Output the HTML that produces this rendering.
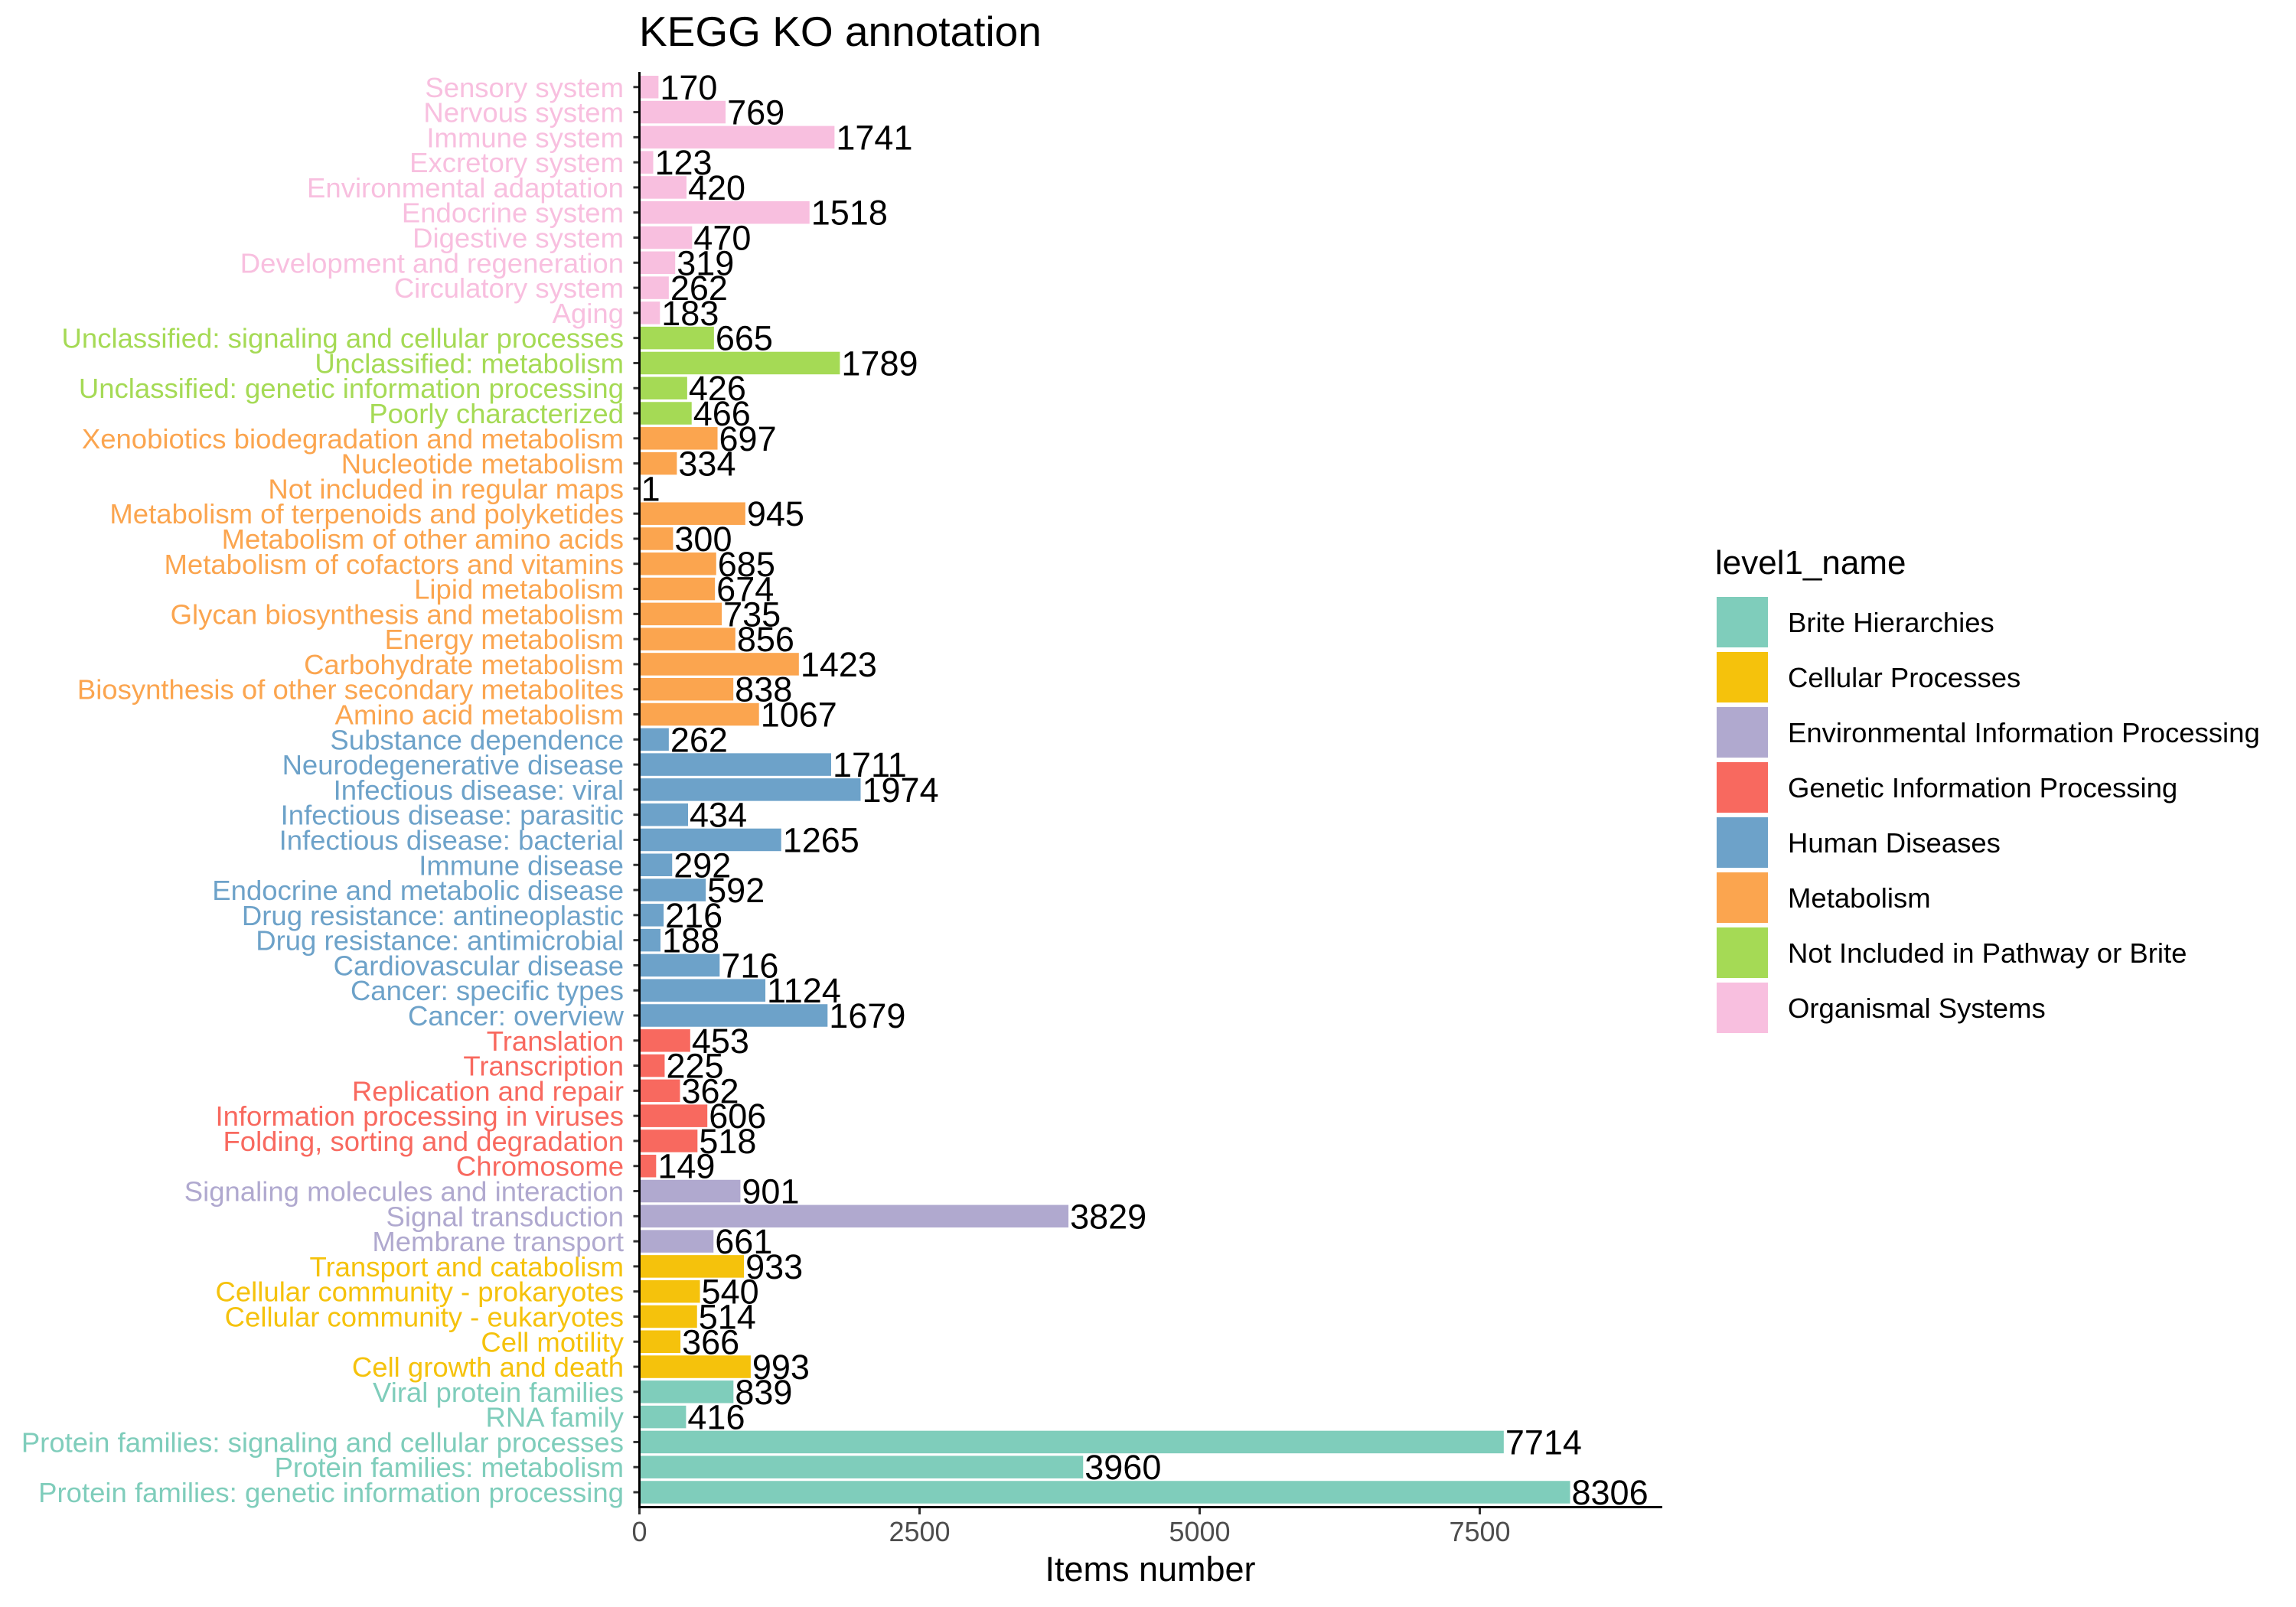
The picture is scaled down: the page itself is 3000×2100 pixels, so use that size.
<!DOCTYPE html>
<html><head><meta charset="utf-8"><style>
html,body{margin:0;padding:0;background:#fff;}
svg{display:block;font-family:"Liberation Sans",Arial,sans-serif;}
</style></head><body>
<svg id="chart" width="3000" height="2100" viewBox="0 0 3000 2100" xmlns="http://www.w3.org/2000/svg">
<text x="835" y="60" font-size="55" fill="#000">KEGG KO annotation</text>
<g id="bars"></g>
<g id="ylabels"></g>
<g id="vlabels"></g>
<g id="xaxis"></g>
<text x="1503" y="2066" font-size="45" text-anchor="middle" fill="#000">Items number</text>
<g id="legend">
<text x="2241" y="750" font-size="44" fill="#000">level1_name</text>
</g>
</svg>
<script>
const categories = ["Protein families: genetic information processing","Protein families: metabolism","Protein families: signaling and cellular processes","RNA family","Viral protein families","Cell growth and death","Cell motility","Cellular community - eukaryotes","Cellular community - prokaryotes","Transport and catabolism","Membrane transport","Signal transduction","Signaling molecules and interaction","Chromosome","Folding, sorting and degradation","Information processing in viruses","Replication and repair","Transcription","Translation","Cancer: overview","Cancer: specific types","Cardiovascular disease","Drug resistance: antimicrobial","Drug resistance: antineoplastic","Endocrine and metabolic disease","Immune disease","Infectious disease: bacterial","Infectious disease: parasitic","Infectious disease: viral","Neurodegenerative disease","Substance dependence","Amino acid metabolism","Biosynthesis of other secondary metabolites","Carbohydrate metabolism","Energy metabolism","Glycan biosynthesis and metabolism","Lipid metabolism","Metabolism of cofactors and vitamins","Metabolism of other amino acids","Metabolism of terpenoids and polyketides","Not included in regular maps","Nucleotide metabolism","Xenobiotics biodegradation and metabolism","Poorly characterized","Unclassified: genetic information processing","Unclassified: metabolism","Unclassified: signaling and cellular processes","Aging","Circulatory system","Development and regeneration","Digestive system","Endocrine system","Environmental adaptation","Excretory system","Immune system","Nervous system","Sensory system"];
const values = [8306,3960,7714,416,839,993,366,514,540,933,661,3829,901,149,518,606,362,225,453,1679,1124,716,188,216,592,292,1265,434,1974,1711,262,1067,838,1423,856,735,674,685,300,945,1,334,697,466,426,1789,665,183,262,319,470,1518,420,123,1741,769,170];
const groupIndex = [0,0,0,0,0,1,1,1,1,1,2,2,2,3,3,3,3,3,3,4,4,4,4,4,4,4,4,4,4,4,4,5,5,5,5,5,5,5,5,5,5,5,5,6,6,6,6,7,7,7,7,7,7,7,7,7,7];
const groupNames = ["Brite Hierarchies","Cellular Processes","Environmental Information Processing","Genetic Information Processing","Human Diseases","Metabolism","Not Included in Pathway or Brite","Organismal Systems"];
const groupColors = ["#7FCDBB","#F5C20C","#B0A9CF","#F8695F","#6DA2C9","#FBA54F","#A5DA55","#F8BFDF"];
const xTicks = [0,2500,5000,7500];

const NS="http://www.w3.org/2000/svg";
const X0=835.5, PXU=366/2500, XEND=2172;
const Y_BOTTOM=1950, BAND=32.79, BARH=29.5;
const xs=v=>X0+v*PXU;
const ys=i=>Y_BOTTOM-i*BAND;
function mk(tag,attrs,parent){const e=document.createElementNS(NS,tag);for(const k in attrs)e.setAttribute(k,attrs[k]);parent.appendChild(e);return e;}
const gb=document.getElementById('bars'),gy=document.getElementById('ylabels'),gv=document.getElementById('vlabels'),gx=document.getElementById('xaxis'),gl=document.getElementById('legend');
categories.forEach((c,i)=>{
  const col=groupColors[groupIndex[i]];const cy=ys(i);
  const r=mk('rect',{x:X0,y:cy-BARH/2,width:Math.max(0,xs(values[i])-X0),height:BARH,fill:col},gb);
  
  
  const t=mk('text',{x:815,y:cy+13,'font-size':36.5,'text-anchor':'end',fill:col},gy);t.textContent=c;
  
  
  const tk=mk('line',{x1:X0-8,x2:X0,y1:cy,y2:cy,stroke:'#333',"stroke-width":3},gy);
  
  
  const v=mk('text',{x:xs(values[i])+2,y:cy+16,'font-size':45,fill:'#000'},gv);v.textContent=values[i];
  
  
});
const ya=mk('line',{x1:X0,x2:X0,y1:94,y2:1971,stroke:'#000','stroke-width':3},gx);


const xa=mk('line',{x1:X0-1.5,x2:XEND,y1:1969.5,y2:1969.5,stroke:'#000','stroke-width':3},gx);


xTicks.forEach(v=>{
  const l=mk('line',{x1:xs(v),x2:xs(v),y1:1971,y2:1979,stroke:'#333','stroke-width':3},gx);
  
  
  const t=mk('text',{x:xs(v),y:2014,'font-size':36,'text-anchor':'middle',fill:'#4d4d4d'},gx);t.textContent=v;
  
  
});
groupNames.forEach((n,i)=>{
  const top=780+i*72;
  const r=mk('rect',{x:2243,y:top,width:67,height:66,fill:groupColors[i]},gl);
  
  
  const t=mk('text',{x:2336,y:top+46,'font-size':36.5,fill:'#000'},gl);t.textContent=n;
  
  
});
</script>
</body></html>
